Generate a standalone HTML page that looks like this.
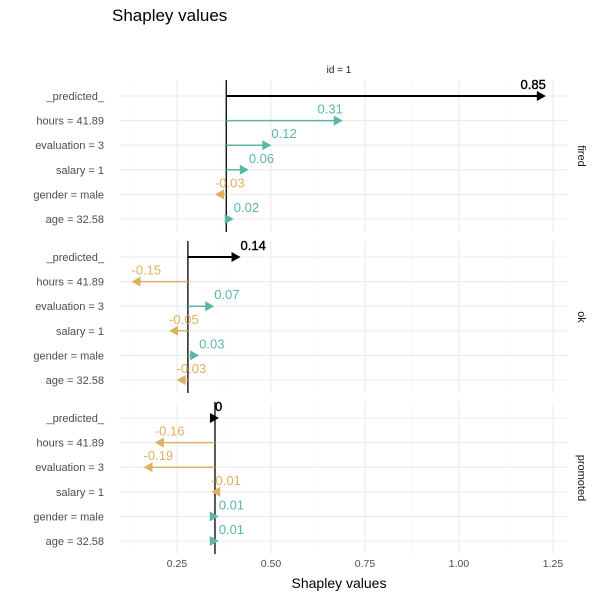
<!DOCTYPE html>
<html><head><meta charset="utf-8"><style>
body{margin:0;background:#fff;font-family:"Liberation Sans",sans-serif}
</style></head><body>
<svg id="c" width="600" height="600" xmlns="http://www.w3.org/2000/svg">
<text x="112" y="21" font-size="17" fill="#000">Shapley values</text>
<text x="339" y="73" font-size="10" text-anchor="middle" fill="#1a1a1a">id = 1</text>
<text x="339" y="588" font-size="14" text-anchor="middle" fill="#000">Shapley values</text>
</svg>
<script>
const variables = ["_predicted_","hours = 41.89","evaluation = 3","salary = 1","gender = male","age = 32.58"];
const panels = ["fired","ok","promoted"];
const baselines = [0.381, 0.279, 0.351];
const firedValues = [0.85, 0.31, 0.12, 0.06, -0.03, 0.02];
const okValues = [0.14, -0.15, 0.07, -0.05, 0.03, -0.03];
const promotedValues = [0, -0.16, -0.19, -0.01, 0.01, 0.01];
const xTicks = [0.25, 0.5, 0.75, 1.0, 1.25];
const xTickLabels = ["0.25","0.50","0.75","1.00","1.25"];

const svg = document.getElementById('c');
const NS = "http://www.w3.org/2000/svg";
const X0 = 120, X1 = 567;
const x = v => 177 + (v - 0.25) * 376;
const panelTop = [80, 241, 402], panelH = 152;
const rowY = (p, i) => panelTop[p] + 16 + i * 24.6;
function mk(tag, attrs){ const e = document.createElementNS(NS, tag); for (const k in attrs) e.setAttribute(k, attrs[k]); svg.appendChild(e); return e; }
const allValues = [firedValues, okValues, promotedValues];
const POS = "#5bb5a8", NEG = "#deb062";

panels.forEach((name, p) => {
  const top = panelTop[p], bot = top + panelH;
  for (let v = 0.125; v <= 1.3; v += 0.25) {
    const g = mk('line', {x1:x(v), x2:x(v), y1:top, y2:bot, stroke:"#f3f3f3", "stroke-width":0.6});
    
    
  }
  xTicks.forEach(v => {
    const g = mk('line', {x1:x(v), x2:x(v), y1:top, y2:bot, stroke:"#ebebeb", "stroke-width":1.1});
    
    
  });
  variables.forEach((lab, i) => {
    const y = rowY(p, i);
    const g = mk('line', {x1:X0, x2:X1, y1:y, y2:y, stroke:"#ebebeb", "stroke-width":1.1});
    
    
    const t = mk('text', {x:104, y:y+4, "font-size":11, "text-anchor":"end", fill:"#4d4d4d"});
    t.textContent = lab;
    
    
  });
  const b = baselines[p];
  const bl = mk('line', {x1:x(b), x2:x(b), y1:top, y2:bot, stroke:"#000", "stroke-width":1.3});
  
  
  allValues[p].forEach((v, i) => {
    const y = rowY(p, i);
    const col = i === 0 ? "#000" : (v >= 0 ? POS : NEG);
    const xs = x(b), xe = x(b + v);
    const dir = v >= 0 ? 1 : -1;
    const ln = mk('line', {x1:xs, x2:xe - dir*2, y1:y, y2:y, stroke:col, "stroke-width":i===0?2:1.5});
    
    
    const hx = (v === 0) ? xe + 4 : xe;
    const hd = mk('polygon', {points:`${hx},${y} ${hx-dir*9},${y-5} ${hx-dir*9},${y+5}`, fill:col});
    
    
    const big = Math.abs(v) > 0.2;
    const attrs = {x:xe, y:y-7, "font-size":13, "text-anchor":big?"end":"start", fill:col};
    if (i === 0) { attrs.stroke = "#000"; attrs["stroke-width"] = 0.4; }
    const t = mk('text', attrs);
    t.textContent = String(v);
    
    
  });
  const s = mk('text', {x:578, y:top+panelH/2, "font-size":11, "text-anchor":"middle", fill:"#1a1a1a", transform:`rotate(90 578 ${top+panelH/2})`});
  s.textContent = name;
  
  
});
xTicks.forEach((v, i) => {
  const t = mk('text', {x:x(v), y:567, "font-size":10.5, "text-anchor":"middle", fill:"#4d4d4d"});
  t.textContent = xTickLabels[i];
  
  
});
</script>
</body></html>
